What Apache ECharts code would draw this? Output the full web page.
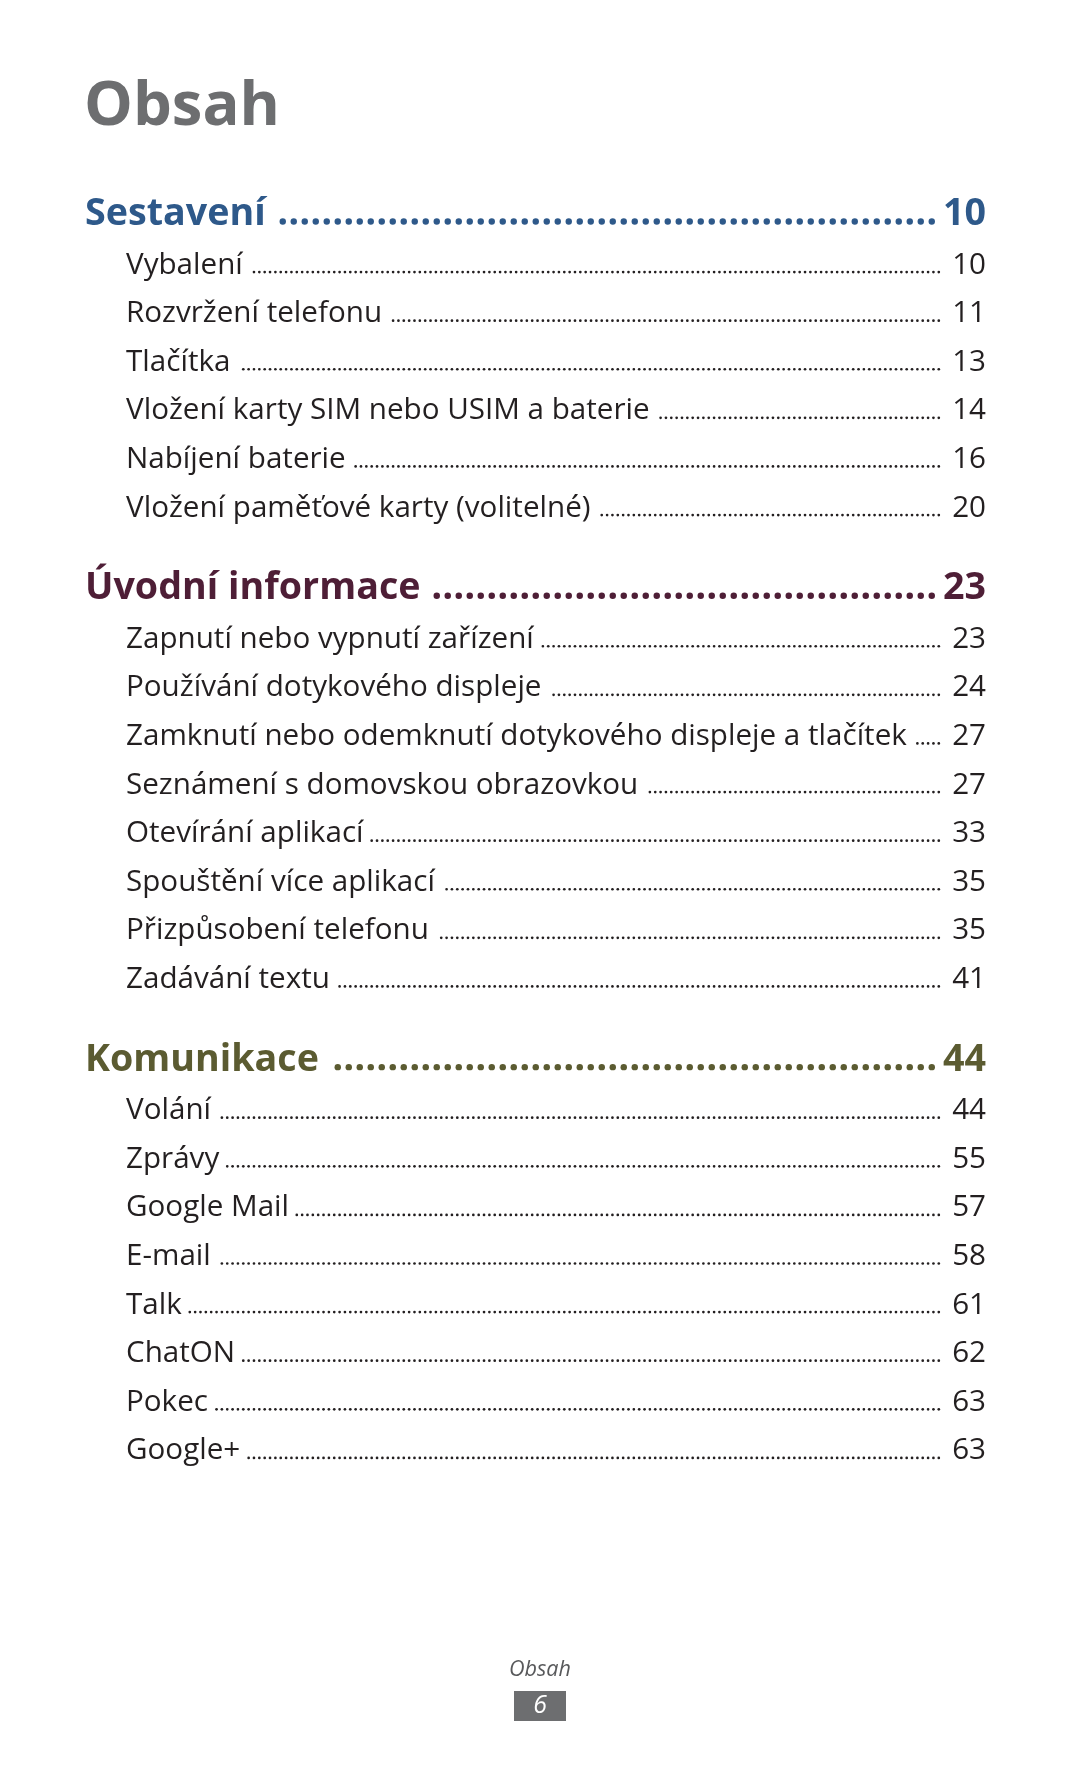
<!DOCTYPE html>
<html>
<head>
<meta charset="utf-8">
<script src="https://cdn.jsdelivr.net/npm/echarts@6/dist/echarts.min.js"></script>
<style>
html,body{margin:0;padding:0;background:#fff;}
#c{width:1080px;height:1771px;}
</style>
</head>
<body>
<div id="c"></div>
<script>
// ---- data ----
const pageTitle = 'Obsah';
const footerLabel = 'Obsah';
const footerPage = '6';
const sectionTitles = ['Sestavení', 'Úvodní informace', 'Komunikace'];
const sectionPages = [10, 23, 44];
const sestaveniItems = ['Vybalení', 'Rozvržení telefonu', 'Tlačítka', 'Vložení karty SIM nebo USIM a baterie', 'Nabíjení baterie', 'Vložení paměťové karty (volitelné)'];
const sestaveniPages = [10, 11, 13, 14, 16, 20];
const uvodItems = ['Zapnutí nebo vypnutí zařízení', 'Používání dotykového displeje', 'Zamknutí nebo odemknutí dotykového displeje a tlačítek', 'Seznámení s domovskou obrazovkou', 'Otevírání aplikací', 'Spouštění více aplikací', 'Přizpůsobení telefonu', 'Zadávání textu'];
const uvodPages = [23, 24, 27, 27, 33, 35, 35, 41];
const komunikaceItems = ['Volání', 'Zprávy', 'Google Mail', 'E-mail', 'Talk', 'ChatON', 'Pokec', 'Google+'];
const komunikacePages = [44, 55, 57, 58, 61, 62, 63, 63];
const sectionColors = ['#2e598a', '#4e1e36', '#5b5b31'];

// ---- layout / style ----
const FONT = '"Open Sans"';
const TEXT = '#231f20';
const GRAY = '#6d6e70';
const ENTRY_STEP = 1;      // row units between entries
const SECTION_GAP = 1.7;   // row units from last entry to next header
const HEAD_W = 700;

const mctx = document.createElement('canvas').getContext('2d');
function setFont(size, weight, style) { mctx.font = (style || 'normal') + ' ' + weight + ' ' + size + 'px ' + FONT; }
function fit(text, weight, target, style) { setFont(100, weight, style); return 100 * target / mctx.measureText(text).width; }
function width(text, size, weight, style) { setFont(size, weight, style); return mctx.measureText(text).width; }
// offset from the "middle" line to the alphabetic baseline
function baseOff(size, weight, style) {
  setFont(size, weight, style);
  mctx.textBaseline = 'alphabetic';
  const cap = mctx.measureText('H').actualBoundingBoxAscent;
  mctx.textBaseline = 'middle';
  const a = mctx.measureText('H').actualBoundingBoxAscent;
  mctx.textBaseline = 'alphabetic';
  return cap - a;
}

const titleSize = fit('Obsah', 700, 196);
const headSize = fit('Komunikace', HEAD_W, 234);
const entrySize = fit('Zamknutí nebo odemknutí dotykového displeje a tlačítek', 400, 781);
const footSize = fit('Obsah', 400, 62, 'italic');

const rows = [];
const groups = [[sestaveniItems, sestaveniPages], [uvodItems, uvodPages], [komunikaceItems, komunikacePages]];
let pos = 0;
groups.forEach((g, si) => {
  if (si > 0) pos += SECTION_GAP;
  rows.push({ kind: 'h', text: sectionTitles[si], page: sectionPages[si], color: sectionColors[si], pos: pos });
  g[0].forEach((t, i) => { pos += ENTRY_STEP; rows.push({ kind: 'e', text: t, page: g[1][i], color: TEXT, pos: pos }); });
});
const maxPos = pos;

const chart = echarts.init(document.getElementById('c'), null, { renderer: 'canvas' });

function renderItem(params, api) {
  const r = rows[params.dataIndex];
  const left = api.coord([0, r.pos]);
  const right = api.coord([1, r.pos]);
  const isH = r.kind === 'h';
  const size = isH ? headSize : entrySize;
  const weight = isH ? HEAD_W : 400;
  const x0 = isH ? left[0] : left[0] + 41;
  const xR = right[0];
  const yb = left[1];
  const off = baseOff(size, weight);
  const ym = yb - off;
  const lw = width(r.text, size, weight);
  const ps = String(r.page);
  const pw = width(ps, size, weight);
  const dotStart = x0 + lw + (isH ? 12 : 9);
  const dotEnd = xR - pw - (isH ? 8 : 12);
  const dotR = isH ? 3.2 : 1.35;
  const spacing = isH ? 11 : 5.35;
  const children = [
    { type: 'text', style: { x: x0, y: ym, text: r.text, fill: r.color, font: weight + ' ' + size + 'px ' + FONT, align: 'left', verticalAlign: 'middle' } },
    { type: 'text', style: { x: xR, y: ym, text: ps, fill: r.color, font: weight + ' ' + size + 'px ' + FONT, align: 'right', verticalAlign: 'middle' } }
  ];
  const n = Math.floor((dotEnd - dotStart) / spacing);
  for (let k = 0; k <= n; k++) {
    children.push({ type: 'circle', shape: { cx: dotEnd - dotR - k * spacing, cy: yb - dotR - (isH ? 0.3 : 0.2), r: dotR }, style: { fill: r.color } });
  }
  return { type: 'group', children: children };
}

const tOff = baseOff(titleSize, 700);
const fOff = baseOff(footSize, 400, 'italic');
const numSize = footSize * 1.15;

chart.setOption({
  backgroundColor: '#ffffff',
  animation: false,
  grid: { left: 85, right: 94, top: 225, bottom: 1771 - (225 + maxPos * 48.6), containLabel: false },
  xAxis: { type: 'value', min: 0, max: 1, show: false },
  yAxis: { type: 'value', min: 0, max: maxPos, inverse: true, show: false },
  graphic: [
    { type: 'text', x: 84, y: 125 - tOff, style: { text: pageTitle, fill: GRAY, font: '700 ' + titleSize + 'px ' + FONT, align: 'left', verticalAlign: 'middle' } },
    { type: 'text', x: 540, y: 1676 - fOff, style: { text: footerLabel, fill: '#58595b', font: 'italic 400 ' + footSize + 'px ' + FONT, align: 'center', verticalAlign: 'middle' } },
    { type: 'rect', shape: { x: 514, y: 1691, width: 52, height: 30 }, style: { fill: GRAY } },
    { type: 'text', x: 540, y: 1706, style: { text: footerPage, fill: '#ffffff', font: 'italic 400 ' + numSize + 'px ' + FONT, align: 'center', verticalAlign: 'middle' } }
  ],
  series: [{
    type: 'custom',
    coordinateSystem: 'cartesian2d',
    renderItem: renderItem,
    data: rows.map((r, i) => [0, r.pos, i]),
    silent: true
  }]
});
</script>
</body>
</html>
